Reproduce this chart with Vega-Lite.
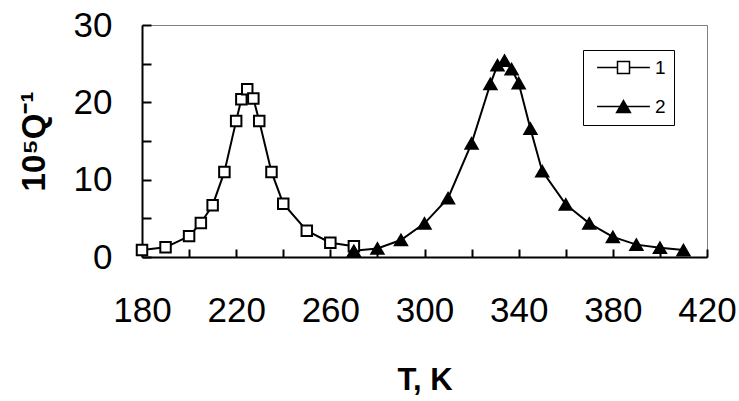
{
  "$schema": "https://vega.github.io/schema/vega-lite/v6.json",
  "width": 565,
  "height": 232,
  "autosize": "none",
  "padding": {"left": 142, "top": 25, "right": 32, "bottom": 144},
  "config": {
    "font": "Liberation Sans, Arial, sans-serif",
    "view": {"stroke": "#808080"}
  },
  "data": {"values": [
    {"s": "1", "T": 180, "Q": 0.9},
    {"s": "1", "T": 190, "Q": 1.25},
    {"s": "1", "T": 200, "Q": 2.7},
    {"s": "1", "T": 205, "Q": 4.4},
    {"s": "1", "T": 210, "Q": 6.7},
    {"s": "1", "T": 215, "Q": 11.0},
    {"s": "1", "T": 220, "Q": 17.6},
    {"s": "1", "T": 222.2, "Q": 20.4},
    {"s": "1", "T": 224.7, "Q": 21.7},
    {"s": "1", "T": 227.3, "Q": 20.5},
    {"s": "1", "T": 229.8, "Q": 17.6},
    {"s": "1", "T": 235, "Q": 11.0},
    {"s": "1", "T": 240, "Q": 6.9},
    {"s": "1", "T": 250, "Q": 3.4},
    {"s": "1", "T": 260, "Q": 1.85},
    {"s": "1", "T": 270, "Q": 1.4},
    {"s": "2", "T": 270, "Q": 0.8},
    {"s": "2", "T": 280, "Q": 1.1},
    {"s": "2", "T": 290, "Q": 2.2},
    {"s": "2", "T": 300, "Q": 4.35},
    {"s": "2", "T": 310, "Q": 7.6},
    {"s": "2", "T": 320, "Q": 14.7},
    {"s": "2", "T": 328, "Q": 22.4},
    {"s": "2", "T": 331, "Q": 24.8},
    {"s": "2", "T": 334, "Q": 25.4},
    {"s": "2", "T": 337, "Q": 24.3},
    {"s": "2", "T": 340, "Q": 22.5},
    {"s": "2", "T": 345, "Q": 16.6},
    {"s": "2", "T": 350, "Q": 11.1},
    {"s": "2", "T": 360, "Q": 6.8},
    {"s": "2", "T": 370, "Q": 4.35},
    {"s": "2", "T": 380, "Q": 2.6},
    {"s": "2", "T": 390, "Q": 1.6},
    {"s": "2", "T": 400, "Q": 1.2},
    {"s": "2", "T": 410, "Q": 0.9}
  ]},
  "encoding": {
    "x": {"field": "T", "type": "quantitative", "scale": {"domain": [180, 420], "nice": false, "zero": false},
      "axis": {"grid": false, "tickCount": 12, "labelExpr": "datum.value % 40 == 0 ? '' : datum.label",
        "tickSize": -8, "tickColor": "black", "tickWidth": 2, "domainColor": "black", "domainWidth": 2,
        "labelPadding": 44, "labelFontSize": 35, "labelColor": "black", "labelFlush": false, "labelOverlap": false,
        "title": "T, K", "titleColor": "black", "titleFontSize": 31, "titleFontWeight": "bold", "titleX": 282.5, "titleY": 123, "titleBaseline": "middle"}},
    "y": {"field": "Q", "type": "quantitative", "scale": {"domain": [0, 30], "nice": false},
      "axis": {"grid": false, "tickCount": 6, "labelExpr": "datum.value % 10 == 5 ? '' : datum.label",
        "tickSize": -9, "tickColor": "black", "tickWidth": 2, "domainColor": "black", "domainWidth": 2,
        "labelPadding": 39, "labelFontSize": 35, "labelColor": "black", "labelFlush": false, "labelOverlap": false,
        "title": "10⁵Q⁻¹", "titleColor": "black", "titleFontSize": 33, "titleFontWeight": "bold", "titleAngle": -90, "titleX": -108, "titleY": 116, "titleBaseline": "middle", "titleAlign": "center"}}
  },
  "layer": [
    {"mark": {"type": "line", "color": "black", "strokeWidth": 2},
     "encoding": {"detail": {"field": "s", "type": "nominal"}}},
    {"transform": [{"filter": "datum.s == '1'"}],
     "mark": {"type": "point", "shape": "square", "size": 110, "filled": true, "fill": "white", "stroke": "black", "strokeWidth": 2, "opacity": 1}},
    {"transform": [{"filter": "datum.s == '2'"}],
     "mark": {"type": "point", "shape": "triangle-up", "size": 169, "filled": true, "fill": "black", "stroke": "black", "strokeWidth": 1.5, "opacity": 1}},
    {"mark": {"type": "point", "filled": true, "opacity": 0, "stroke": "black", "strokeWidth": 2, "size": 144},
     "encoding": {
       "shape": {"field": "s", "type": "nominal", "scale": {"domain": ["1", "2"], "range": ["M-4.4,0H-1M-1,-1H1V1H-1ZM1,0H4.4", "M-4.4,0H4.4M0,-1L1.15,1H-1.15Z"]},
         "legend": {"title": null, "orient": "none", "legendX": 441, "legendY": 25, "symbolOpacity": 1, "symbolSize": 144, "labelFontSize": 19, "labelColor": "black", "labelOffset": 22, "symbolOffset": 23, "padding": 8, "rowPadding": 19, "strokeColor": "black", "fillColor": "white",
           "encode": {"symbols": {"update": {"opacity": {"value": 1}, "strokeOpacity": {"value": 1}, "fillOpacity": {"value": 1}, "stroke": {"value": "black"}, "strokeWidth": {"value": 2}}}}}},
       "fill": {"field": "s", "type": "nominal", "scale": {"domain": ["1", "2"], "range": ["white", "black"]}}
     }}
  ]
}
